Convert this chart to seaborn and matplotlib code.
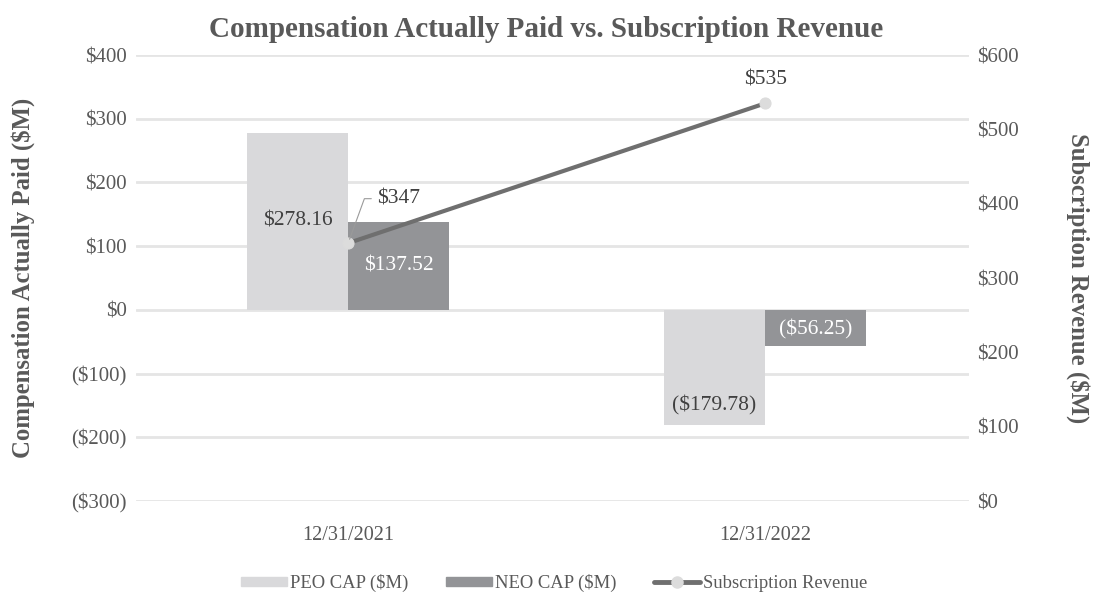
import matplotlib
matplotlib.use("Agg")
import matplotlib.pyplot as plt
import numpy as np
import pandas as pd
import seaborn as sns
from matplotlib.lines import Line2D
from matplotlib.patches import Patch

# ---- data ----
periods = ["12/31/2021", "12/31/2022"]
peo_cap = [278.16, -179.78]
neo_cap = [137.52, -56.25]
sub_revenue = [347, 535]

PEO_COLOR = "#d9d9db"
NEO_COLOR = "#939497"
LINE_COLOR = "#6f6f6f"
TEXT_COLOR = "#595959"
LABEL_DARK = "#404040"


def money(v, dec=2):
    s = f"${abs(v):,.{dec}f}"
    return f"({s})" if v < 0 else s


bars = pd.DataFrame({
    "period": periods * 2,
    "value": peo_cap + neo_cap,
    "series": ["PEO CAP ($M)"] * 2 + ["NEO CAP ($M)"] * 2,
})
line = pd.DataFrame({"x": np.arange(len(periods)), "revenue": sub_revenue})

sns.set_style("white")
plt.rcParams["font.family"] = ["Liberation Serif", "DejaVu Serif"]

fig = plt.figure(figsize=(10.93, 5.98), dpi=100)
ax = fig.add_axes([0.124, 0.162, 0.763, 0.746])

sns.barplot(data=bars, x="period", y="value", hue="series", order=periods,
            palette=[PEO_COLOR, NEO_COLOR], width=0.485, ax=ax, legend=False,
            saturation=1, linewidth=0)
ax.set_xlim(-0.51, 1.49)
ax.set_ylim(-300, 400)
ax.set_yticks(range(-300, 401, 100))
ax.set_yticklabels([money(v, 0) for v in range(-300, 401, 100)])
ax.grid(axis="y", color="#e5e5e5", linewidth=2)
ax.set_axisbelow(True)
sns.despine(ax=ax, left=True, bottom=True)
ax.tick_params(length=0, labelsize=15, labelcolor=TEXT_COLOR, pad=6.5)
ax.tick_params(axis="x", labelsize=14.5, pad=18)
ax.set_xlabel("")
ax.set_ylabel("Compensation Actually Paid ($M)", fontsize=17.8, fontweight="bold",
              color=TEXT_COLOR, labelpad=26)

# bar labels (PEO dark text, NEO white text)
frac = {278.16: 0.5, 137.52: 0.5, -56.25: 0.55, -179.78: 0.83}
for cont, col in zip(ax.containers, [LABEL_DARK, "white"]):
    for rect in cont:
        v = rect.get_height()
        key = min(frac, key=lambda k: abs(k - v))
        ax.text(rect.get_x() + rect.get_width() / 2, v * frac[key], money(v),
                ha="center", va="center", fontsize=15.5, color=col)

# revenue line on secondary axis
ax2 = ax.twinx()
sns.lineplot(data=line, x="x", y="revenue", ax=ax2, color=LINE_COLOR, linewidth=3,
             marker="o", markersize=8, markerfacecolor="#dcdcdc",
             markeredgecolor="#dcdcdc")
ax2.set_ylim(0, 600)
ax2.set_yticks(range(0, 601, 100))
ax2.set_yticklabels([money(v, 0) for v in range(0, 601, 100)])
sns.despine(ax=ax2, left=True, bottom=True, right=True)
ax2.tick_params(length=0, labelsize=15, labelcolor=TEXT_COLOR, pad=5.5)
ax2.set_ylabel("Subscription Revenue ($M)", fontsize=17.8, fontweight="bold",
               color=TEXT_COLOR, rotation=-90, labelpad=51)
ax2.set_xlim(ax.get_xlim())

ax2.annotate(money(sub_revenue[0], 0), xy=(0, sub_revenue[0]), xytext=(21, 32),
             textcoords="offset points", fontsize=15.5, color=LABEL_DARK,
             ha="left", va="center",
             arrowprops=dict(arrowstyle="-", color="#9a9a9a", lw=0.8,
                             connectionstyle="angle,angleA=0,angleB=70,rad=0",
                             shrinkA=2, shrinkB=3))
ax2.annotate(money(sub_revenue[1], 0), xy=(1, sub_revenue[1]), xytext=(0, 10),
             textcoords="offset points", fontsize=15.5, color=LABEL_DARK,
             ha="center", va="bottom")

fig.suptitle("Compensation Actually Paid vs. Subscription Revenue", fontsize=21,
             fontweight="bold", color=TEXT_COLOR, y=0.974)

handles = [Patch(color=PEO_COLOR, label="PEO CAP ($M)"),
           Patch(color=NEO_COLOR, label="NEO CAP ($M)"),
           Line2D([0], [0], color=LINE_COLOR, lw=3.5, marker="o", markersize=8,
                  markerfacecolor="#dcdcdc", markeredgecolor="#dcdcdc",
                  label="Subscription Revenue")]
fig.legend(handles=handles, loc="center", ncol=3, frameon=False,
           bbox_to_anchor=(0.507, 0.025), fontsize=13.4, handlelength=2.5,
           handleheight=0.35, handletextpad=0.15, columnspacing=2.0,
           labelcolor=TEXT_COLOR)

fig.savefig("out.png", dpi=100)
